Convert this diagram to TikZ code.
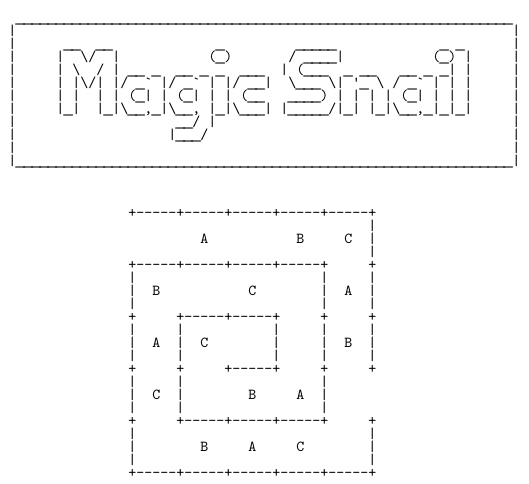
\documentclass[tikz,border=0pt]{standalone}

\newcommand\chrep[2]{\ifnum#1>0 #2\expandafter\chrep\expandafter{\the\numexpr#1-1\relax}{#2}\fi}
\newcommand\gap[1]{\chrep{#1}{~}}
\newcommand\us{\makebox[0.525em][c]{\scalebox{1.65}[1]{\_}}}
\newcommand\bsl{\textbackslash}
\newcommand\gvq{\textasciigrave}
\newcommand\apq{\textquotesingle}
\newcommand\dashes{\chrep{5}{-}}

\begin{document}
\begin{tikzpicture}[x=0.2cm,y=-0.325cm,
  txt/.style={font=\ttfamily\fontsize{10.84}{13}\selectfont,anchor=base west,inner sep=0pt}]
  \useasboundingbox (0,0) rectangle (66.125,37.231);
  % Rahmen
  \node[txt] (boxtop) at (2,1.746) {\chrep{62}{\us}};
  \foreach \k in {1,...,10}{
    \node[txt] (lbar\k) at (1,\k+1.746) {|};
    \node[txt] (rbar\k) at (64,\k+1.746) {|};
  }
  \node[txt] (boxbot) at (1,12.746) {|\chrep{62}{\us}|};
  % Schriftzug
  \node[txt] (fig0) at (7,3.746) {\gap{1}\us\us\gap{2}\us\us\gap{13}\us\gap{9}\us\us\us\us\us\gap{13}\us\gap{1}\us};
  \node[txt] (fig1) at (7,4.746) {|\gap{2}\bsl/\gap{2}|\gap{11}(\us)\gap{7}/\gap{1}\us\us\us\us|\gap{11}(\us)\gap{1}|};
  \node[txt] (fig2) at (7,5.746) {|\gap{1}\bsl\gap{2}/\gap{1}|\gap{1}\us\us\gap{1}\us\gap{2}\us\us\gap{1}\us\gap{1}\us\gap{2}\us\us\us\gap{2}|\gap{1}(\us\us\us\gap{2}\us\gap{1}\us\us\gap{3}\us\us\gap{1}\us\gap{1}\us|\gap{1}|};
  \node[txt] (fig3) at (7,6.746) {|\gap{1}|\bsl/|\gap{1}|/\gap{1}\us\gvq\gap{1}|/\gap{1}\us\gvq\gap{1}|\gap{1}|/\gap{1}\us\us|\gap{2}\bsl\us\us\us\gap{1}\bsl|\gap{1}\apq\us\gap{1}\bsl\gap{1}/\gap{1}\us\gvq\gap{1}|\gap{1}|\gap{1}|};
  \node[txt] (fig4) at (7,7.746) {|\gap{1}|\gap{2}|\gap{1}|\gap{1}(\us|\gap{1}|\gap{1}(\us|\gap{1}|\gap{1}|\gap{1}(\us\us\gap{3}\us\us\us\us)\gap{1}|\gap{1}|\gap{1}|\gap{1}|\gap{1}(\us|\gap{1}|\gap{1}|\gap{1}|};
  \node[txt] (fig5) at (7,8.746) {|\us|\gap{2}|\us|\bsl\us\us,\us|\bsl\us\us,\gap{1}|\us|\bsl\us\us\us|\gap{1}|\us\us\us\us\us/|\us|\gap{1}|\us|\bsl\us\us,\us|\us|\us|};
  \node[txt] (fig6) at (7,9.746) {\gap{15}\us\us/\gap{1}|};
  \node[txt] (fig7) at (7,10.746) {\gap{14}|\us\us\us/};
  % Spirale
  \node[txt] (row0) at (16,16.715) {+\dashes+\dashes+\dashes+\dashes+\dashes+};
  \node[txt] (row1) at (16,17.715) {\gap{30}|};
  \node[txt] (row2) at (16,18.715) {\gap{9}A\gap{11}B\gap{5}C\gap{2}|};
  \node[txt] (row3) at (16,19.715) {\gap{30}|};
  \node[txt] (row4) at (16,20.715) {+\dashes+\dashes+\dashes+\dashes+\gap{5}+};
  \node[txt] (row5) at (16,21.715) {|\gap{23}|\gap{5}|};
  \node[txt] (row6) at (16,22.715) {|\gap{2}B\gap{11}C\gap{8}|\gap{2}A\gap{2}|};
  \node[txt] (row7) at (16,23.715) {|\gap{23}|\gap{5}|};
  \node[txt] (row8) at (16,24.715) {+\gap{5}+\dashes+\dashes+\gap{5}+\gap{5}+};
  \node[txt] (row9) at (16,25.715) {|\gap{5}|\gap{11}|\gap{5}|\gap{5}|};
  \node[txt] (row10) at (16,26.715) {|\gap{2}A\gap{2}|\gap{2}C\gap{8}|\gap{5}|\gap{2}B\gap{2}|};
  \node[txt] (row11) at (16,27.715) {|\gap{5}|\gap{11}|\gap{5}|\gap{5}|};
  \node[txt] (row12) at (16,28.715) {+\gap{5}+\gap{5}+\dashes+\gap{5}+\gap{5}+};
  \node[txt] (row13) at (16,29.715) {|\gap{5}|\gap{17}|};
  \node[txt] (row14) at (16,30.715) {|\gap{2}C\gap{2}|\gap{8}B\gap{5}A\gap{2}|};
  \node[txt] (row15) at (16,31.715) {|\gap{5}|\gap{17}|};
  \node[txt] (row16) at (16,32.715) {+\gap{5}+\dashes+\dashes+\dashes+\gap{5}+};
  \node[txt] (row17) at (16,33.715) {|\gap{29}|};
  \node[txt] (row18) at (16,34.715) {|\gap{8}B\gap{5}A\gap{5}C\gap{8}|};
  \node[txt] (row19) at (16,35.715) {|\gap{29}|};
  \node[txt] (row20) at (16,36.715) {+\dashes+\dashes+\dashes+\dashes+\dashes+};
\end{tikzpicture}
\end{document}
